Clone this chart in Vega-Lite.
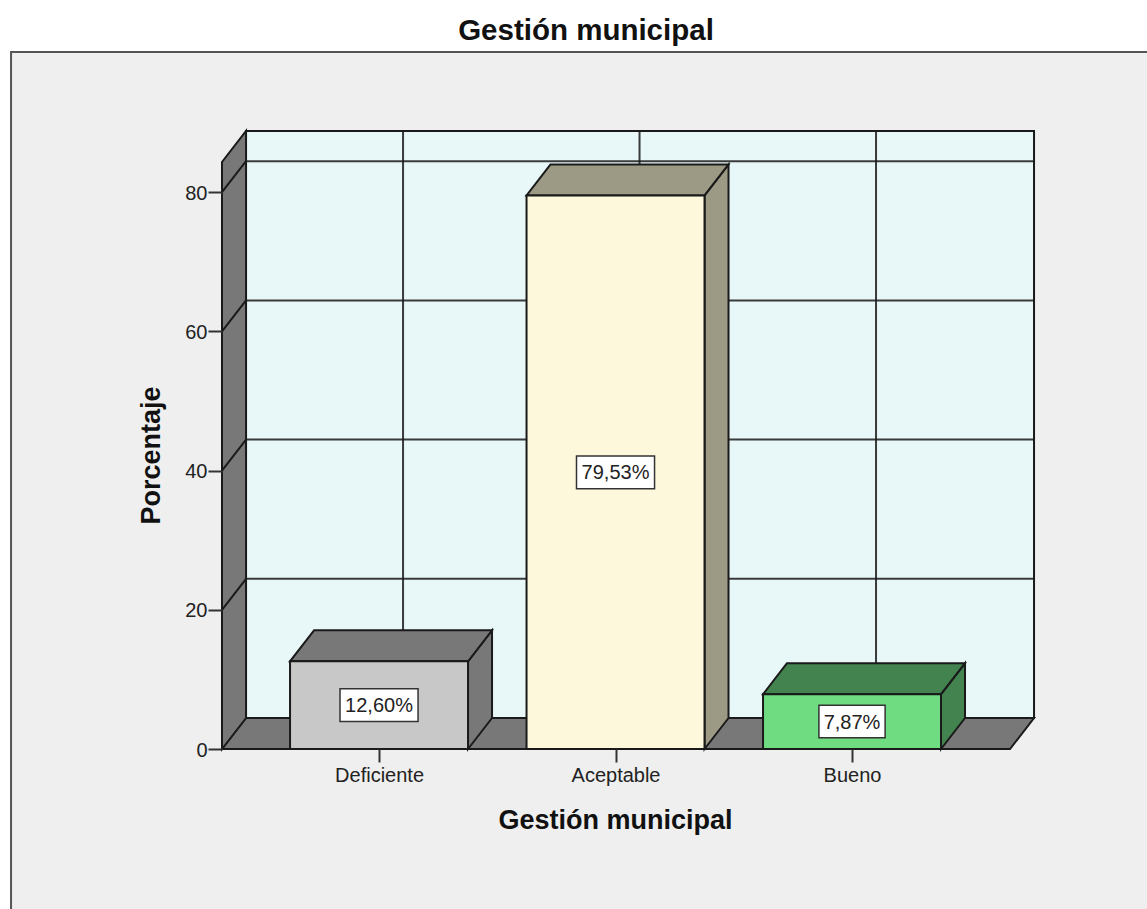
{"$schema":"https://vega.github.io/schema/vega-lite/v6.json","width":788,"height":618,"autosize":{"type":"none"},"padding":{"left":222,"top":131,"right":137,"bottom":160},"background":"#ffffff","title":{"text":"Gestión municipal","anchor":"middle","frame":"group","dx":-30,"offset":5,"font":"Liberation Sans","fontWeight":"bold","fontSize":29.5,"color":"#111111"},"config":{"view":{"stroke":null},"axis":{"labelFont":"Liberation Sans","titleFont":"Liberation Sans"}},"datasets":{"bars":[{"categoria":"Deficiente","frente":"Deficiente frente","valor":12.6,"izq":0.6237,"der":1.3763,"centro":1,"medio":6.3,"cajaIzq":0.835,"cajaDer":1.165,"cajaAbajo":3.95,"cajaArriba":8.65,"etiqueta":"12,60%"},{"categoria":"Aceptable","frente":"Aceptable frente","valor":79.53,"izq":1.6237,"der":2.3763,"centro":2,"medio":39.765,"cajaIzq":1.835,"cajaDer":2.165,"cajaAbajo":37.4,"cajaArriba":42.1,"etiqueta":"79,53%"},{"categoria":"Bueno","frente":"Bueno frente","valor":7.87,"izq":2.6237,"der":3.3763,"centro":3,"medio":3.935,"cajaIzq":2.86,"cajaDer":3.14,"cajaAbajo":1.6,"cajaArriba":6.3,"etiqueta":"7,87%"}],"panel":[{"x":-0.556,"x2":4.5,"y":-30,"y2":100.14}],"pared":[{"x":0.4376,"x2":3.7696,"y":4.454,"y2":88.793}],"vertical":[{"x":1.1015,"y":4.454,"y2":88.793},{"x":2.1015,"y":4.454,"y2":88.793},{"x":3.1015,"y":4.454,"y2":88.793}],"horizontal":[{"y":24.454,"x":0.4376,"x2":3.7696},{"y":44.454,"x":0.4376,"x2":3.7696},{"y":64.454,"x":0.4376,"x2":3.7696},{"y":84.454,"x":0.4376,"x2":3.7696}],"diagonal":[{"nivel":20,"x":0.336,"y":20},{"nivel":20,"x":0.4376,"y":24.454},{"nivel":40,"x":0.336,"y":40},{"nivel":40,"x":0.4376,"y":44.454},{"nivel":60,"x":0.336,"y":60},{"nivel":60,"x":0.4376,"y":64.454},{"nivel":80,"x":0.336,"y":80},{"nivel":80,"x":0.4376,"y":84.454}],"suelo":[{"cara":"Suelo","tono":"Marco","y":0,"x":0.336,"x2":3.668},{"cara":"Suelo","tono":"Marco","y":4.454,"x":0.4376,"x2":3.7696}],"lateral":[{"cara":"Muro","tono":"Marco","x":0.336,"y":0,"y2":84.34},{"cara":"Muro","tono":"Marco","x":0.4376,"y":4.454,"y2":88.793},{"cara":"Deficiente lado","tono":"Deficiente lado","x":1.3763,"y":0,"y2":12.6},{"cara":"Deficiente lado","tono":"Deficiente lado","x":1.4778,"y":4.454,"y2":17.054},{"cara":"Aceptable lado","tono":"Aceptable lado","x":2.3763,"y":0,"y2":79.53},{"cara":"Aceptable lado","tono":"Aceptable lado","x":2.4778,"y":4.454,"y2":83.984},{"cara":"Bueno lado","tono":"Bueno lado","x":3.3763,"y":0,"y2":7.87},{"cara":"Bueno lado","tono":"Bueno lado","x":3.4778,"y":4.454,"y2":12.324}],"techo":[{"cara":"Deficiente techo","tono":"Deficiente lado","y":12.6,"x":0.6237,"x2":1.3763},{"cara":"Deficiente techo","tono":"Deficiente lado","y":17.054,"x":0.7252,"x2":1.4778},{"cara":"Aceptable techo","tono":"Aceptable lado","y":79.53,"x":1.6237,"x2":2.3763},{"cara":"Aceptable techo","tono":"Aceptable lado","y":83.984,"x":1.7252,"x2":2.4778},{"cara":"Bueno techo","tono":"Bueno lado","y":7.87,"x":2.6237,"x2":3.3763},{"cara":"Bueno techo","tono":"Bueno lado","y":12.324,"x":2.7252,"x2":3.4778}]},"layer":[{"data":{"name":"panel"},"mark":{"type":"rect","fill":"#efefef","stroke":"#555555","strokeWidth":2},"encoding":{"x":{"field":"x","type":"quantitative","title":"Gestión municipal","scale":{"domain":[0.336,3.668],"nice":false,"zero":false},"axis":{"values":[1,2,3],"labelExpr":"datum.value==1?'Deficiente':datum.value==2?'Aceptable':'Bueno'","domain":false,"grid":false,"tickSize":13,"tickColor":"#333333","tickWidth":2,"labelFontSize":20,"labelColor":"#222222","labelPadding":3,"zindex":1,"titleFontSize":27,"titleFontWeight":"bold","titleColor":"#111111","titleX":393,"titleY":58,"titleAnchor":"middle"}},"x2":{"field":"x2"},"y":{"field":"y","type":"quantitative","title":"Porcentaje","scale":{"domain":[0,88.793],"nice":false,"zero":false},"axis":{"values":[0,20,40,60,80],"domain":false,"grid":false,"tickSize":14,"tickColor":"#333333","tickWidth":2,"labelFontSize":20,"labelColor":"#222222","labelPadding":1,"labelOffset":1,"zindex":1,"titleFontSize":27,"titleFontWeight":"bold","titleColor":"#111111","titleX":-57,"titleY":324,"titleAnchor":"middle"}},"y2":{"field":"y2"}}},{"data":{"name":"pared"},"mark":{"type":"rect","fill":"#e8f7f8","stroke":"#1a1a1a","strokeWidth":2},"encoding":{"x":{"field":"x","type":"quantitative","title":"Gestión municipal","scale":{"domain":[0.336,3.668],"nice":false,"zero":false}},"x2":{"field":"x2"},"y":{"field":"y","type":"quantitative","title":"Porcentaje","scale":{"domain":[0,88.793],"nice":false,"zero":false}},"y2":{"field":"y2"}}},{"data":{"name":"vertical"},"mark":{"type":"rule","stroke":"#1a1a1a","strokeWidth":2,"opacity":0.85},"encoding":{"x":{"field":"x","type":"quantitative","title":"Gestión municipal","scale":{"domain":[0.336,3.668],"nice":false,"zero":false}},"y":{"field":"y","type":"quantitative","title":"Porcentaje","scale":{"domain":[0,88.793],"nice":false,"zero":false}},"y2":{"field":"y2"}}},{"data":{"name":"horizontal"},"mark":{"type":"rule","stroke":"#1a1a1a","strokeWidth":2,"opacity":0.85},"encoding":{"x":{"field":"x","type":"quantitative","title":"Gestión municipal","scale":{"domain":[0.336,3.668],"nice":false,"zero":false}},"x2":{"field":"x2"},"y":{"field":"y","type":"quantitative","title":"Porcentaje","scale":{"domain":[0,88.793],"nice":false,"zero":false}}}},{"data":{"name":"suelo"},"mark":{"type":"area","orient":"horizontal","stroke":"#1a1a1a","strokeWidth":2},"encoding":{"x":{"field":"x","type":"quantitative","title":"Gestión municipal","scale":{"domain":[0.336,3.668],"nice":false,"zero":false}},"x2":{"field":"x2"},"y":{"field":"y","type":"quantitative","title":"Porcentaje","scale":{"domain":[0,88.793],"nice":false,"zero":false}},"detail":{"field":"cara"},"color":{"field":"tono","type":"nominal","legend":null,"scale":{"domain":["Marco","Deficiente lado","Aceptable lado","Bueno lado","Deficiente frente","Aceptable frente","Bueno frente"],"range":["#787878","#787878","#9c9a85","#43834f","#c8c8c8","#fdf8dc","#6fdc82"]}}}},{"data":{"name":"lateral"},"mark":{"type":"area","stroke":"#1a1a1a","strokeWidth":2},"encoding":{"x":{"field":"x","type":"quantitative","title":"Gestión municipal","scale":{"domain":[0.336,3.668],"nice":false,"zero":false}},"y":{"field":"y","type":"quantitative","title":"Porcentaje","scale":{"domain":[0,88.793],"nice":false,"zero":false}},"y2":{"field":"y2"},"detail":{"field":"cara"},"color":{"field":"tono","type":"nominal","legend":null,"scale":{"domain":["Marco","Deficiente lado","Aceptable lado","Bueno lado","Deficiente frente","Aceptable frente","Bueno frente"],"range":["#787878","#787878","#9c9a85","#43834f","#c8c8c8","#fdf8dc","#6fdc82"]}}}},{"data":{"name":"diagonal"},"mark":{"type":"line","stroke":"#1a1a1a","strokeWidth":2},"encoding":{"x":{"field":"x","type":"quantitative","title":"Gestión municipal","scale":{"domain":[0.336,3.668],"nice":false,"zero":false}},"y":{"field":"y","type":"quantitative","title":"Porcentaje","scale":{"domain":[0,88.793],"nice":false,"zero":false}},"detail":{"field":"nivel"}}},{"data":{"name":"techo"},"mark":{"type":"area","orient":"horizontal","stroke":"#1a1a1a","strokeWidth":2},"encoding":{"x":{"field":"x","type":"quantitative","title":"Gestión municipal","scale":{"domain":[0.336,3.668],"nice":false,"zero":false}},"x2":{"field":"x2"},"y":{"field":"y","type":"quantitative","title":"Porcentaje","scale":{"domain":[0,88.793],"nice":false,"zero":false}},"detail":{"field":"cara"},"color":{"field":"tono","type":"nominal","legend":null,"scale":{"domain":["Marco","Deficiente lado","Aceptable lado","Bueno lado","Deficiente frente","Aceptable frente","Bueno frente"],"range":["#787878","#787878","#9c9a85","#43834f","#c8c8c8","#fdf8dc","#6fdc82"]}}}},{"data":{"name":"bars"},"mark":{"type":"rect","stroke":"#1a1a1a","strokeWidth":2},"encoding":{"x":{"field":"izq","type":"quantitative","title":"Gestión municipal","scale":{"domain":[0.336,3.668],"nice":false,"zero":false}},"x2":{"field":"der"},"y":{"field":"valor","type":"quantitative","title":"Porcentaje","scale":{"domain":[0,88.793],"nice":false,"zero":false}},"y2":{"datum":0},"color":{"field":"frente","type":"nominal","legend":null,"scale":{"domain":["Marco","Deficiente lado","Aceptable lado","Bueno lado","Deficiente frente","Aceptable frente","Bueno frente"],"range":["#787878","#787878","#9c9a85","#43834f","#c8c8c8","#fdf8dc","#6fdc82"]}}}},{"data":{"name":"bars"},"mark":{"type":"rect","fill":"#ffffff","stroke":"#333333","strokeWidth":1.5},"encoding":{"x":{"field":"cajaIzq","type":"quantitative","title":"Gestión municipal","scale":{"domain":[0.336,3.668],"nice":false,"zero":false}},"x2":{"field":"cajaDer"},"y":{"field":"cajaAbajo","type":"quantitative","title":"Porcentaje","scale":{"domain":[0,88.793],"nice":false,"zero":false}},"y2":{"field":"cajaArriba"}}},{"data":{"name":"bars"},"mark":{"type":"text","font":"Liberation Sans","fontSize":20,"fill":"#222222","align":"center","baseline":"middle","dy":1},"encoding":{"x":{"field":"centro","type":"quantitative","title":"Gestión municipal","scale":{"domain":[0.336,3.668],"nice":false,"zero":false}},"y":{"field":"medio","type":"quantitative","title":"Porcentaje","scale":{"domain":[0,88.793],"nice":false,"zero":false}},"text":{"field":"etiqueta"}}}]}
